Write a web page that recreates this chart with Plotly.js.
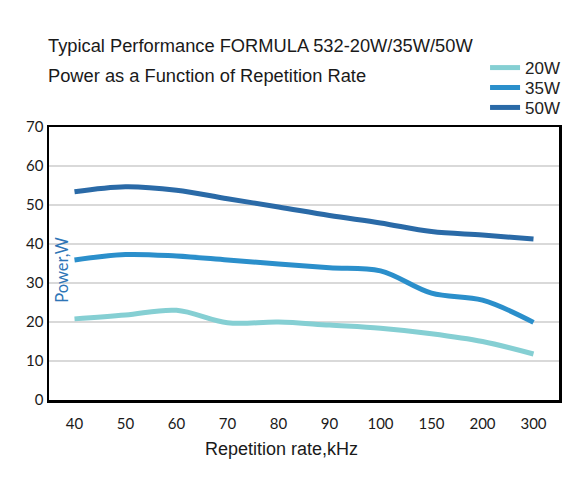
<!DOCTYPE html>
<html>
<head>
<meta charset="utf-8">
<script src="https://cdn.plot.ly/plotly-3.0.1.min.js"></script>
<style>html,body{margin:0;padding:0;background:#fff;}#chart{width:579px;height:484px;}</style>
</head>
<body>
<div id="chart"></div>
<script>
var rateLabels = ["40", "50", "60", "70", "80", "90", "100", "150", "200", "300"];
var power20W = [20.8, 21.8, 23.0, 19.8, 20.0, 19.2, 18.4, 17.0, 15.0, 11.8];
var power35W = [35.9, 37.3, 36.9, 35.9, 34.9, 33.9, 33.1, 27.4, 25.6, 19.9];
var power50W = [53.4, 54.7, 53.8, 51.6, 49.5, 47.3, 45.4, 43.2, 42.3, 41.3];
var seriesNames = ["20W", "35W", "50W"];
var seriesColors = ["#85cfd3", "#2b8fcb", "#2a6aa7"];
var yTicks = [0, 10, 20, 30, 40, 50, 60, 70];

var xIdx = rateLabels.map(function (_, i) { return i; });
var seriesData = [power20W, power35W, power50W];
var legendIds = ["legend", "legend2", "legend3"];
var traces = seriesData.map(function (vals, k) {
  return {
    x: xIdx, y: vals, name: seriesNames[k], type: "scatter", mode: "lines",
    legend: legendIds[k],
    line: {color: seriesColors[k], width: 5, shape: "spline", smoothing: 1},
    hoverinfo: "skip"
  };
});

var sansFont = "'Liberation Sans', Arial, sans-serif";
var tickFont = {family: "Lato, 'Open Sans', sans-serif", size: 15, color: "#1a1a1a"};
function legendAt(yPaper) {
  return {
    x: 0.855, xanchor: "left", y: yPaper, yanchor: "middle",
    font: {family: sansFont, size: 17, color: "#222"},
    itemwidth: 30, bgcolor: "rgba(0,0,0,0)"
  };
}
var layout = {
  width: 579, height: 484,
  margin: {l: 49, r: 20, t: 127, b: 84},
  paper_bgcolor: "#ffffff", plot_bgcolor: "#ffffff",
  showlegend: true,
  legend: legendAt(1.216),
  legend2: legendAt(1.143),
  legend3: legendAt(1.070),
  xaxis: {
    range: [-0.5, 9.5], tickvals: xIdx, ticktext: rateLabels,
    showgrid: false, zeroline: false, showline: true, mirror: true,
    linecolor: "#000", linewidth: 2.5, ticks: "", tickfont: tickFont, ticklabelstandoff: 8
  },
  yaxis: {
    range: [0, 70], tickvals: yTicks, showgrid: true, gridcolor: "#d9d9d9", gridwidth: 2,
    zeroline: false, showline: true, mirror: true, linecolor: "#000", linewidth: 2.5,
    ticks: "", tickfont: tickFont, ticklabelstandoff: 0
  },
  annotations: [
    {text: "Typical Performance FORMULA 532-20W/35W/50W", xref: "paper", yref: "paper",
     x: -0.006, y: 1.30, xanchor: "left", yanchor: "middle", showarrow: false,
     font: {family: sansFont, size: 18.3, color: "#1a1a1a"}},
    {text: "Power as a Function of Repetition Rate", xref: "paper", yref: "paper",
     x: -0.006, y: 1.187, xanchor: "left", yanchor: "middle", showarrow: false,
     font: {family: sansFont, size: 18.3, color: "#1a1a1a"}},
    {text: "Repetition rate,kHz", xref: "paper", yref: "paper",
     x: 0.455, y: -0.18, xanchor: "center", yanchor: "middle", showarrow: false,
     font: {family: sansFont, size: 18, color: "#1a1a1a"}},
    {text: "Power,W", xref: "paper", yref: "paper", x: 0.025, y: 0.476,
     xanchor: "center", yanchor: "middle", textangle: -90, showarrow: false,
     font: {family: "Lato, 'Open Sans', sans-serif", size: 16.5, color: "#2e75b6"}}
  ]
};
Plotly.newPlot("chart", traces, layout, {displayModeBar: false, staticPlot: true});
</script>
</body>
</html>
